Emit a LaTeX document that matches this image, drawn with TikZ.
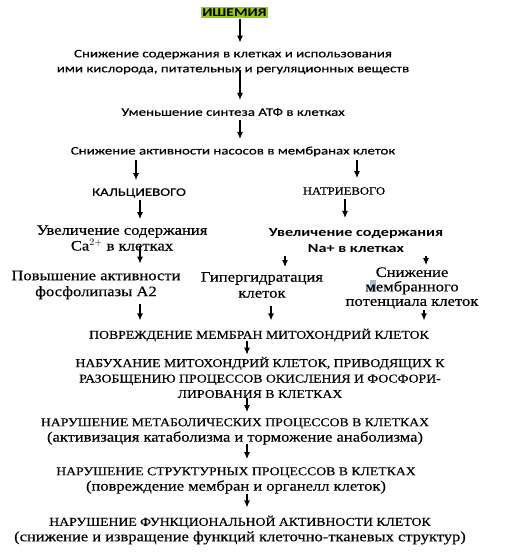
\documentclass[tikz,border=0pt]{standalone}
\usepackage{fontspec}
\setmainfont[FakeStretch=1.15, FakeBold=0.4]{Liberation Serif}
\newfontfamily\calfont[FakeStretch=1.3, FakeBold=0.4]{Carlito}
\newfontfamily\calbold[FakeStretch=1.3]{Carlito}
\usetikzlibrary{arrows.meta}
\definecolor{hlgreen}{RGB}{150,200,20}
\definecolor{selblue}{RGB}{160,190,220}
\begin{document}
\begin{tikzpicture}[x=1bp, y=-1bp, every node/.style={inner sep=0pt, align=center},
  sans/.style={font=\calfont\fontsize{11.5}{15}\selectfont},
  sansb/.style={font=\calbold\bfseries\fontsize{12.5}{16.5}\selectfont},
  ser/.style={font=\fontsize{14.5}{16}\selectfont},
  sertight/.style={font=\fontsize{14.5}{14.5}\selectfont},
  caps/.style={font=\fontsize{12}{15.5}\selectfont},
  arr/.style={-{Latex[length=7bp,width=6bp]}, line width=1.2bp}]
  \useasboundingbox (0,0) rectangle (528,559);
  \node[fill=hlgreen, inner xsep=1bp, inner ysep=1.5bp, font=\calbold\bfseries\fontsize{12}{14}\selectfont] (isch) at (234.5,12.5) {ИШЕМИЯ};
  \node[sans] (a1) at (233,62) {Снижение содержания в клетках и использования\\ими кислорода, питательных и регуляционных веществ};
  \node[sans] (a2) at (233,112) {Уменьшение синтеза АТФ в клетках};
  \node[sans] (a3) at (233,151.5) {Снижение активности насосов в мембранах клеток};
  % two branches
  \node[sans] (ca) at (139,193) {КАЛЬЦИЕВОГО};
  \node[caps, font=\fontsize{11}{14}\selectfont] (na) at (344,191) {НАТРИЕВОГО};
  \node[sertight] (ca2) at (122,238) {Увеличение содержания\\Ca$^{2+}$ в клетках};
  \node[sansb] (na2) at (356,240.5) {Увеличение содержания\\Na+ в клетках};
  \node[ser] (p1) at (96,285) {Повышение активности\\фосфолипазы А2};
  \node[ser] (p2) at (262,285) {Гипергидратация\\клеток};
  \fill[selblue] (370,280) rectangle (376,292);
  \node[sertight] (p3) at (412,288) {Снижение\\мембранного\\потенциала клеток};
  % common chain
  \node[caps] (m1) at (259,335) {ПОВРЕЖДЕНИЕ МЕМБРАН МИТОХОНДРИЙ КЛЕТОК};
  \node[caps] (m2) at (260,377.5) {НАБУХАНИЕ МИТОХОНДРИЙ КЛЕТОК, ПРИВОДЯЩИХ К\\РАЗОБЩЕНИЮ ПРОЦЕССОВ ОКИСЛЕНИЯ И ФОСФОРИ-\\ЛИРОВАНИЯ В КЛЕТКАХ};
  \node[caps] (m3) at (235,431.5) {НАРУШЕНИЕ МЕТАБОЛИЧЕСКИХ ПРОЦЕССОВ В КЛЕТКАХ\\{\fontsize{14.4}{15.5}\selectfont(активизация катаболизма и торможение анаболизма)}};
  \node[caps] (m4) at (236,480.5) {НАРУШЕНИЕ СТРУКТУРНЫХ ПРОЦЕССОВ В КЛЕТКАХ\\{\fontsize{14.4}{15.5}\selectfont(повреждение мембран и органелл клеток)}};
  \node[caps] (m5) at (240,530) {НАРУШЕНИЕ ФУНКЦИОНАЛЬНОЙ АКТИВНОСТИ КЛЕТОК\\{\fontsize{14.4}{15.5}\selectfont(снижение и извращение функций клеточно-тканевых структур)}};
  \foreach \s/\t/\x/\p/\q in {isch/a1/240/0.5/7, a1/a2/240/-4.5/8, a2/a3/240/4/7.5, a3/ca/136/3.5/8, a3/na/357/3.5/9,
      ca/ca2/140/2/6, na/na2/345/4/10, ca2/p1/140/-5/7, na2/p2/285/3/5, na2/p3/426/3/2,
      p1/m1/140/5/8, p2/m1/271/8/8, p3/m1/424/1/8, m1/m2/247/-1/2, m2/m3/247/0/6, m3/m4/247/-1/8, m4/m5/247/0/8}
    \draw[arr, shorten <=\p bp, shorten >=\q bp] (\x,0 |- \s.south) -- (\x,0 |- \t.north);
\end{tikzpicture}
\end{document}
